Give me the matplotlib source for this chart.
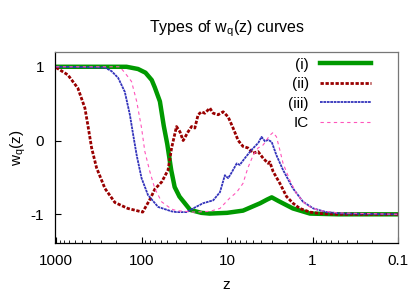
import matplotlib
matplotlib.use("Agg")
import matplotlib.pyplot as plt
from matplotlib.ticker import LogLocator, NullFormatter, FixedLocator, FixedFormatter

plt.rcParams['font.family'] = ['Liberation Sans', 'DejaVu Sans']

# curve (i)
z_i = [1000, 150, 110, 90, 76, 70, 61, 55, 50, 45, 41, 36, 27, 20, 16, 10, 6.5, 4.1, 3.4, 3.0,
       2.5, 1.7, 1.07, 0.5, 0.1]
w_i = [1.0, 1.0, 0.97, 0.92, 0.82, 0.72, 0.53, 0.2, -0.05, -0.4, -0.63, -0.76, -0.94, -0.98, -0.99,
       -0.98, -0.95, -0.85, -0.8, -0.77, -0.82, -0.92, -0.99, -1.0, -1.0]

# curve (ii)
z_ii = [1000, 728, 556, 460, 425, 384, 336, 268, 205, 145, 97, 80, 70, 58, 49, 44.5, 39, 35.6,
        32.6, 28.5, 26, 23.8, 21.8, 19.9, 18.2, 15.9, 14.5, 12.7, 11.1, 9.7, 8.5, 7.4, 6.5, 5.7,
        4.95, 4.33, 3.78, 3.3, 3.16, 2.89, 2.41, 2.01, 1.69, 1.41, 1.07, 0.82, 0.5, 0.1]
w_ii = [0.99, 0.89, 0.71, 0.44, 0.21, -0.1, -0.37, -0.65, -0.84, -0.92, -0.97, -0.8, -0.66, -0.56,
        -0.4, -0.1, 0.19, 0.12, 0.0, 0.12, 0.19, 0.17, 0.35, 0.39, 0.37, 0.44, 0.37, 0.35, 0.39,
        0.32, 0.17, 0.0, -0.08, -0.1, -0.17, -0.15, -0.24, -0.31, -0.29, -0.42, -0.58, -0.76,
        -0.85, -0.92, -0.97, -0.99, -1.0, -1.0]

# curve (iii)
z_iii = [1000, 268, 224, 188, 157, 137, 125, 114, 100, 84, 64, 44.5, 39, 29.8, 24.9, 19.1, 14.5,
         12.1, 10.6, 9.7, 8.9, 7.7, 7.1, 6.2, 5.2, 4.3, 3.95, 3.6, 3.3, 3.0, 2.64, 2.21, 1.69,
         1.29, 0.98, 0.69, 0.44, 0.1]
w_iii = [1.0, 0.99, 0.94, 0.85, 0.66, 0.35, 0.07, -0.2, -0.51, -0.74, -0.9, -0.96, -0.97, -0.97,
         -0.92, -0.85, -0.81, -0.7, -0.47, -0.51, -0.44, -0.31, -0.33, -0.24, -0.13, -0.03, 0.05,
         -0.01, 0.01, -0.02, -0.2, -0.4, -0.65, -0.83, -0.92, -0.97, -0.99, -1.0]

# IC
z_ic = [1000, 180, 157, 131, 114, 100, 91.5, 80, 70, 58.3, 44.5, 39, 24.9, 15.9, 12.1, 9.3, 7.7,
        6.5, 5.7, 4.95, 4.33, 3.78, 3.16, 2.89, 2.64, 2.41, 2.21, 1.84, 1.54, 1.17, 0.82, 0.52, 0.1]
w_ic = [1.0, 1.0, 0.92, 0.8, 0.53, 0.17, -0.15, -0.42, -0.65, -0.83, -0.93, -0.95, -0.97, -0.96,
        -0.92, -0.78, -0.7, -0.58, -0.37, -0.2, -0.1, -0.06, 0.07, 0.11, 0.05, -0.13, -0.31,
        -0.54, -0.72, -0.88, -0.95, -0.98, -1.0]

fig = plt.figure(figsize=(4.15, 2.99), dpi=100)
ax = fig.add_axes([0.1325, 0.187, 0.8265, 0.639])

ax.plot(z_i, w_i, color='#009900', lw=3.2, label='(i)')
ax.plot(z_ii, w_ii, color='#990000', lw=2.0, linestyle=(0, (1.2, 0.6)), label='(ii)')
ax.plot(z_iii, w_iii, color='#3333bb', lw=1.3, linestyle=(0, (1.5, 0.4)), label='(iii)')
ax.plot(z_ic, w_ic, color='#ff55bb', lw=0.8, linestyle=(0, (3, 3)), label='IC')

ax.set_xscale('log')
ax.set_xlim(1030, 0.1)
ax.set_ylim(-1.39, 1.2)
ax.xaxis.set_major_locator(FixedLocator([1000, 100, 10, 1, 0.1]))
ax.xaxis.set_major_formatter(FixedFormatter(['1000', '100', '10', '1', '0.1']))
ax.xaxis.set_minor_locator(LogLocator(base=10, subs=range(2, 10)))
ax.xaxis.set_minor_formatter(NullFormatter())
ax.set_yticks([-1, 0, 1])
ax.set_yticklabels(['-1', '0', '1'])
ax.tick_params(direction='in', labelsize=11, length=4, width=0.8, pad=8, colors='black')
ax.tick_params(which='minor', direction='in', length=2, width=0.6)
ax.spines['top'].set_color('#777777')
ax.spines['right'].set_color('#777777')
for s in ax.spines.values():
    s.set_linewidth(0.9)

ax.set_title('Types of w$_\\mathregular{q}$(z) curves', fontsize=11.5, pad=14)
ax.set_xlabel('z', fontsize=11, labelpad=7)
ax.set_ylabel('w$_\\mathregular{q}$(z)', fontsize=11, labelpad=2)

ax.legend(loc='upper right', bbox_to_anchor=(0.945, 1.01), frameon=False, markerfirst=False,
          fontsize=11, handlelength=3.4, labelspacing=0.36, borderpad=0, handletextpad=0.7)

fig.savefig('out.png', dpi=100)
